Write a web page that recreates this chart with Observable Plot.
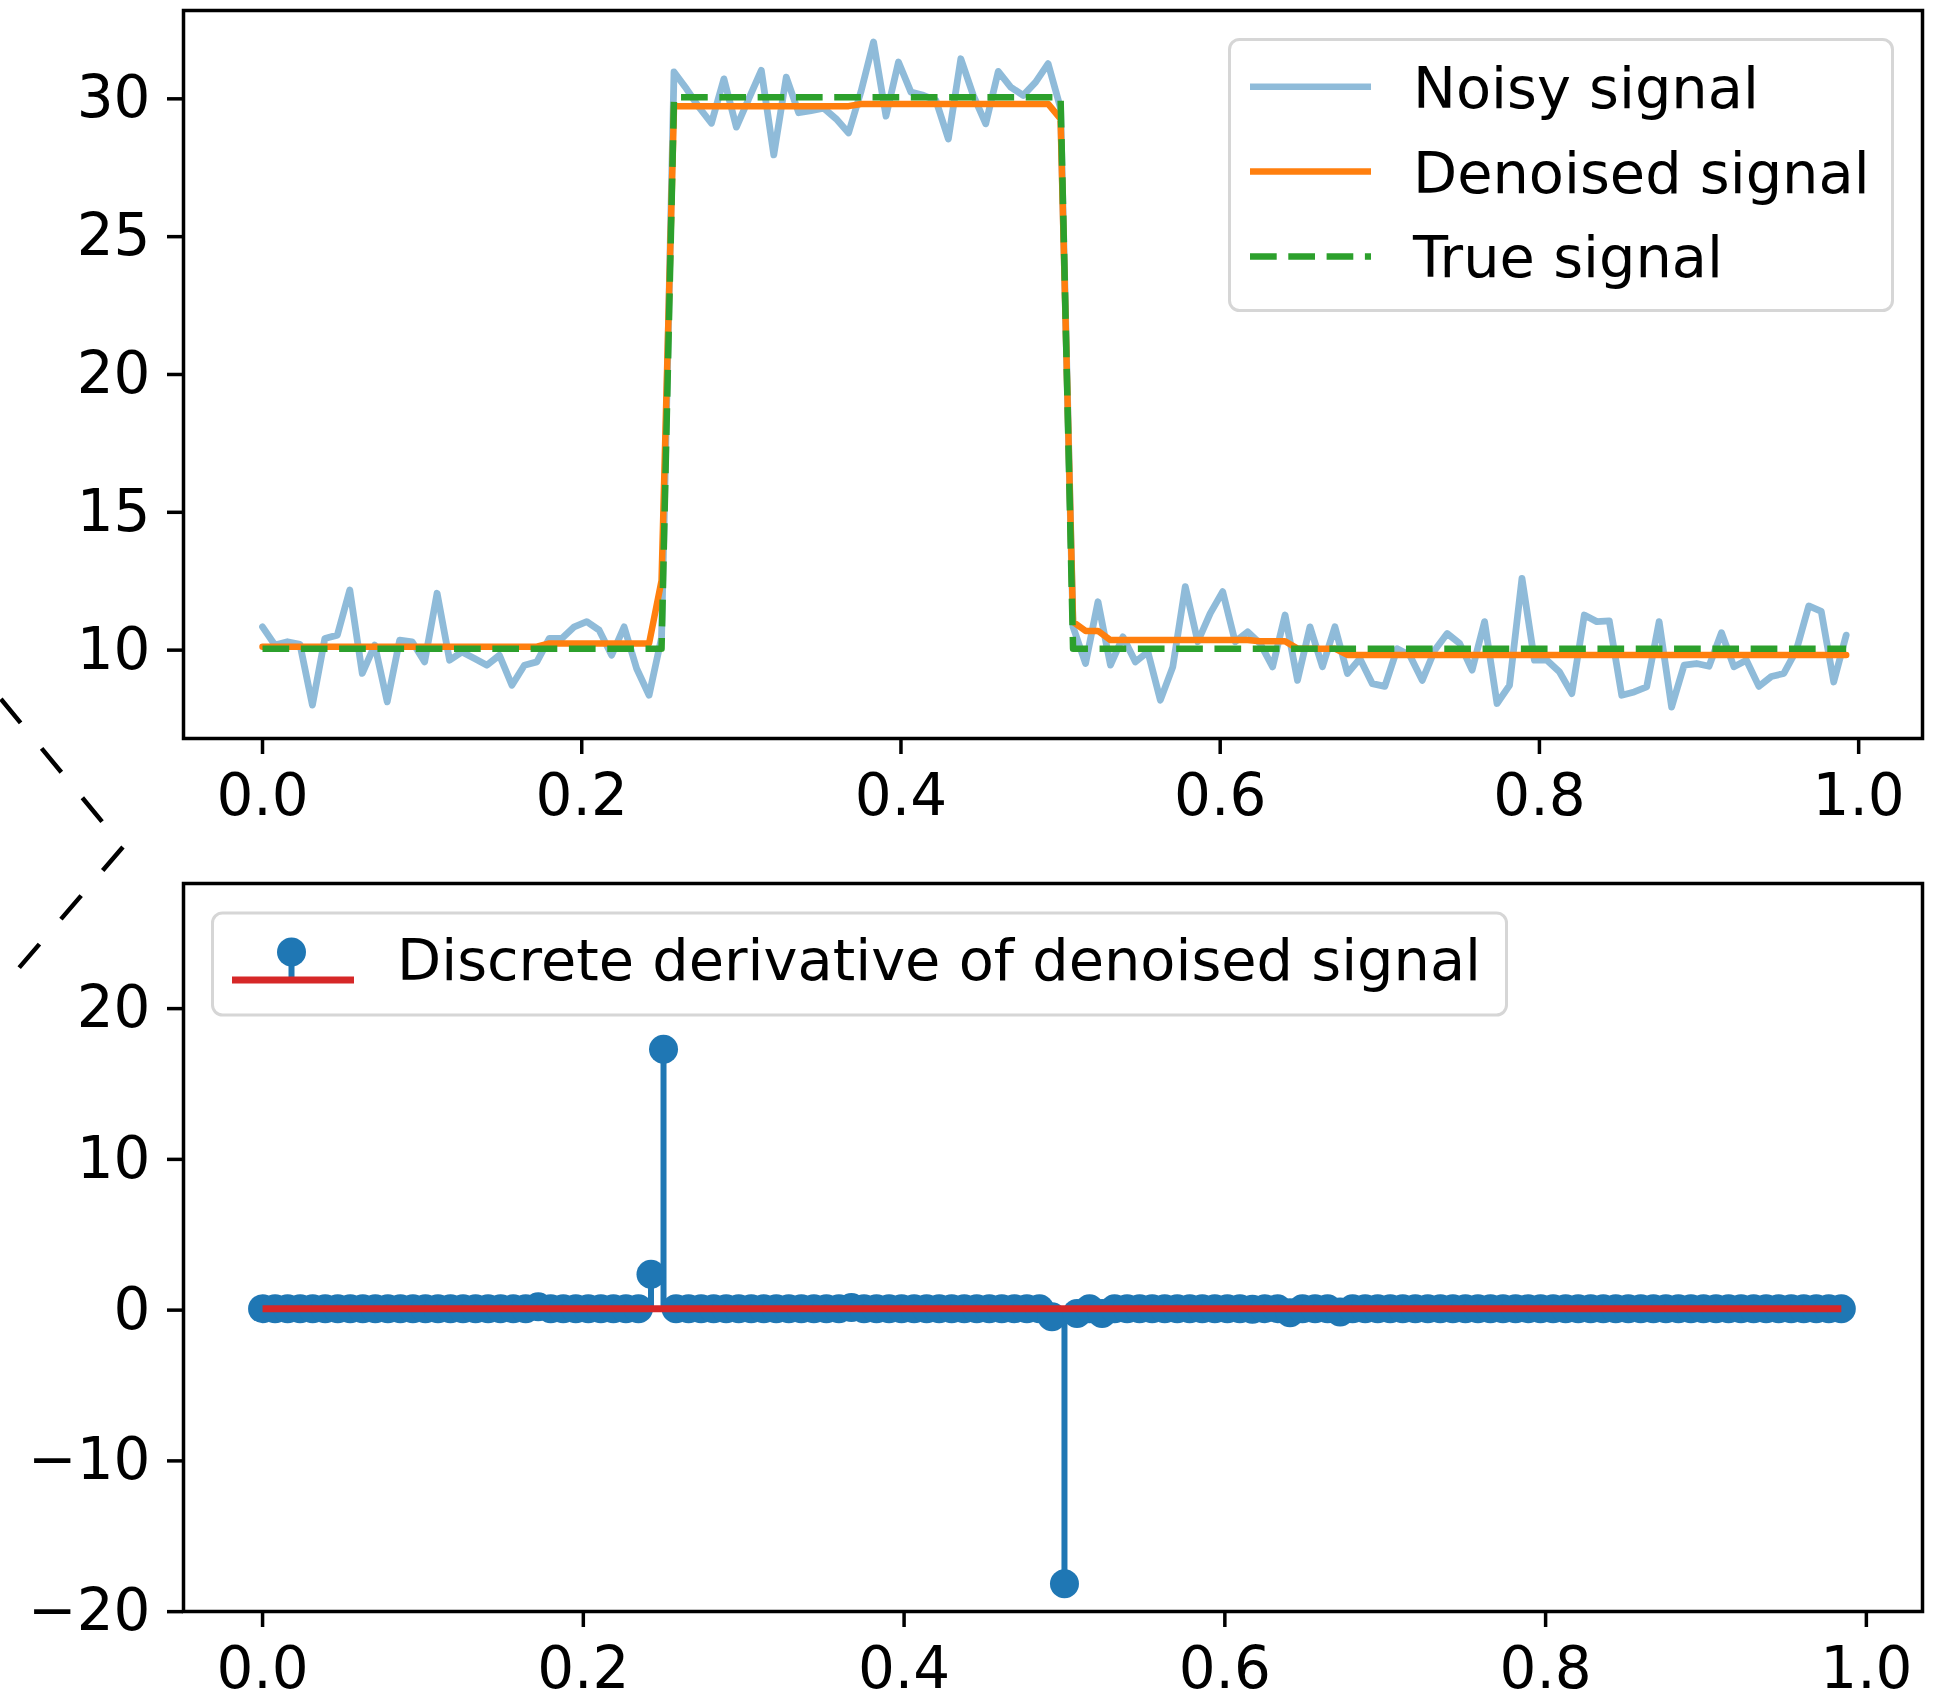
<!DOCTYPE html>
<html>
<head>
<meta charset="utf-8">
<script src="https://cdn.jsdelivr.net/npm/d3@7"></script>
<script src="https://cdn.jsdelivr.net/npm/@observablehq/plot@0.6"></script>
<style>
  html, body { margin: 0; padding: 0; background: #ffffff; overflow: hidden; }
  #wrap { position: relative; width: 1937px; height: 1699px; background: #ffffff; font-family: "DejaVu Sans", sans-serif; }
  #topPanel, #bottomPanel, #overlay { position: absolute; left: 0; }
  #topPanel { top: 0; }
  #bottomPanel { top: 820px; }
  #overlay { top: 0; pointer-events: none; }
</style>
</head>
<body>
<div id="wrap">
  <div id="topPanel"></div>
  <div id="bottomPanel"></div>
  <div id="overlay"></div>
</div>
<script>
// ---------------- data ----------------
const N = 128;
const xSamples = d3.range(N).map(i => i / N);   // sampling grid x = k/128

const noisySignal = [
  10.79,10.13,10.25,10.16,7.95,10.37,10.49,12.13,9.10,10.13,
  8.07,10.31,10.25,9.52,12.01,9.58,9.88,9.64,9.40,9.76,
  8.67,9.40,9.52,10.37,10.37,10.79,10.98,10.67,9.76,10.79,
  9.28,8.31,10.40,30.92,30.31,29.64,29.06,30.67,28.92,29.95,
  30.98,27.91,30.73,29.44,29.52,29.61,29.22,28.71,30.22,32.01,
  29.32,31.28,30.19,30.07,29.89,28.49,31.40,30.07,29.04,30.94,
  30.37,30.07,30.55,31.22,29.60,10.79,9.46,11.70,9.40,10.43,
  9.52,9.88,8.13,9.34,12.25,10.25,11.28,12.07,10.25,10.61,
  10.19,9.34,11.22,8.85,10.79,9.34,10.79,9.10,9.64,8.73,
  8.63,10.00,9.76,8.85,9.94,10.55,10.19,9.22,10.98,8.01,
  8.67,12.55,9.58,9.58,9.16,8.37,11.22,10.98,11.01,8.31,
  8.43,8.61,10.98,7.88,9.40,9.46,9.36,10.58,9.34,9.58,
  8.63,8.99,9.10,9.94,11.55,11.35,8.79,10.49
];

const denoisedSignal = [
  10.07,10.07,10.07,10.07,10.07,10.07,10.07,10.07,10.07,10.07,
  10.07,10.07,10.07,10.07,10.07,10.07,10.07,10.07,10.07,10.07,
  10.07,10.07,10.07,10.19,10.19,10.19,10.19,10.19,10.19,10.19,
  10.19,10.19,12.47,29.68,29.68,29.68,29.68,29.68,29.68,29.68,
  29.68,29.68,29.68,29.68,29.68,29.68,29.68,29.68,29.76,29.76,
  29.76,29.76,29.76,29.76,29.76,29.76,29.76,29.76,29.76,29.76,
  29.76,29.76,29.76,29.76,29.22,10.97,10.64,10.64,10.31,10.31,
  10.31,10.31,10.31,10.31,10.31,10.31,10.31,10.31,10.31,10.31,
  10.27,10.27,10.27,10.00,10.00,10.00,10.00,9.77,9.77,9.77,
  9.77,9.77,9.77,9.77,9.77,9.77,9.77,9.77,9.77,9.77,
  9.77,9.77,9.77,9.77,9.77,9.77,9.77,9.77,9.77,9.77,
  9.77,9.77,9.77,9.77,9.77,9.77,9.77,9.77,9.77,9.77,
  9.77,9.77,9.77,9.77,9.77,9.77,9.77,9.77
];

const trueSignal = [
  10,10,10,10,10,10,10,10,10,10,
  10,10,10,10,10,10,10,10,10,10,
  10,10,10,10,10,10,10,10,10,10,
  10,10,10,30,30,30,30,30,30,30,
  30,30,30,30,30,30,30,30,30,30,
  30,30,30,30,30,30,30,30,30,30,
  30,30,30,30,30,10,10,10,10,10,
  10,10,10,10,10,10,10,10,10,10,
  10,10,10,10,10,10,10,10,10,10,
  10,10,10,10,10,10,10,10,10,10,
  10,10,10,10,10,10,10,10,10,10,
  10,10,10,10,10,10,10,10,10,10,
  10,10,10,10,10,10,10,10
];

// discrete derivative of the denoised signal (127 values, drawn at x[0..126])
const derivative = [
  0,0,0,0,0,0,0,0,0,0,
  0,0,0,0,0,0,0,0,0,0,
  0,0,0.12,0,0,0,0,0,0,0,
  0,2.28,17.21,0,0,0,0,0,0,0,
  0,0,0,0,0,0,0,0.08,0,0,
  0,0,0,0,0,0,0,0,0,0,
  0,0,0,-0.54,-18.25,-0.33,0,-0.33,0,0,
  0,0,0,0,0,0,0,0,0,-0.04,
  0,0,-0.27,0,0,0,-0.23,0,0,0,
  0,0,0,0,0,0,0,0,0,0,
  0,0,0,0,0,0,0,0,0,0,
  0,0,0,0,0,0,0,0,0,0,
  0,0,0,0,0,0,0
];

const xTicks = [0, 0.2, 0.4, 0.6, 0.8, 1.0];
const yTicksTop = [10, 15, 20, 25, 30];
const yTicksBottom = [-20, -10, 0, 10, 20];
const legendTopLabels = ["Noisy signal", "Denoised signal", "True signal"];
const legendBottomLabel = "Discrete derivative of denoised signal";

// ---------------- styles ----------------
const C0 = "#1f77b4", C1 = "#ff7f0e", C2 = "#2ca02c", C3 = "#d62728";
const FONT = '"DejaVu Sans", sans-serif';
const idx = d3.range(noisySignal.length);
const idxD = d3.range(derivative.length);

const common = {
  width: 1937,
  marginLeft: 183,
  marginRight: 15,
  style: { fontFamily: FONT, fontSize: "58px", color: "black", background: "transparent", overflow: "visible" }
};
const axisStyle = { tickSize: 16, strokeWidth: 3.5, fontSize: 58, label: null, fontFamily: FONT };

const topPlot = Plot.plot({
  ...common,
  height: 820,
  marginTop: 10,
  marginBottom: 82,
  x: { domain: [-0.0495, 1.040], axis: null },
  y: { domain: [6.74, 33.15], axis: null },
  marks: [
    Plot.line(idx, { x: i => xSamples[i], y: i => noisySignal[i], stroke: C0, strokeOpacity: 0.5, strokeWidth: 6.8 }),
    Plot.line(idx, { x: i => xSamples[i], y: i => denoisedSignal[i], stroke: C1, strokeWidth: 6.5 }),
    Plot.line(idx, { x: i => xSamples[i], y: i => trueSignal[i], stroke: C2, strokeWidth: 6.5,
                     strokeDasharray: "26.7,11.6", strokeLinecap: "butt" }),
    Plot.frame({ stroke: "black", strokeWidth: 3.5 }),
    Plot.axisX({ ...axisStyle, ticks: xTicks, tickFormat: d3.format(".1f"), tickPadding: 19 }),
    Plot.axisY({ ...axisStyle, ticks: yTicksTop, tickFormat: d3.format("d"), tickPadding: 17, dy: 1.5 })
  ]
});
document.getElementById("topPanel").appendChild(topPlot);

const bottomPlot = Plot.plot({
  ...common,
  height: 879,
  marginTop: 63,
  marginBottom: 88,
  x: { domain: [-0.0493, 1.035], axis: null },
  y: { domain: [-20.09, 28.2], axis: null },
  marks: [
    Plot.ruleX(idxD, { x: i => xSamples[i], y1: () => 0, y2: i => derivative[i], stroke: C0, strokeWidth: 6 }),
    Plot.dot(idxD, { x: i => xSamples[i], y: i => derivative[i], r: 14.5, fill: C0, stroke: "none" }),
    Plot.line([idxD[0], idxD[idxD.length - 1]], { x: i => xSamples[i], y: () => 0, stroke: C3, strokeWidth: 7, strokeLinecap: "butt" }),
    Plot.frame({ stroke: "black", strokeWidth: 3.5 }),
    Plot.axisX({ ...axisStyle, ticks: xTicks, tickFormat: d3.format(".1f"), tickPadding: 19 }),
    Plot.axisY({ ...axisStyle, ticks: yTicksBottom, tickFormat: d3.format("d"), tickPadding: 17, dy: 1.5 })
  ]
});
document.getElementById("bottomPanel").appendChild(bottomPlot);

// ---------------- legends and connector decoration (layout) ----------------
const svg = d3.create("svg")
  .attr("width", 1937).attr("height", 1699)
  .attr("font-family", FONT).attr("font-size", 57.4);

// dashed connector at far left
svg.append("polyline")
  .attr("points", "-20,673.7 123,847 18,969")
  .attr("fill", "none").attr("stroke", "black").attr("stroke-width", 4.5)
  .attr("stroke-dasharray", "31,33").attr("stroke-dashoffset", 31.2);

// top legend
const lt = svg.append("g");
lt.append("rect").attr("x", 1229.5).attr("y", 39.5).attr("width", 663).attr("height", 271)
  .attr("rx", 10).attr("fill", "white").attr("fill-opacity", 0.8)
  .attr("stroke", "#d6d6d6").attr("stroke-width", 3);
const swatchStyles = [
  { stroke: C0, opacity: 0.5, dash: null },
  { stroke: C1, opacity: 1, dash: null },
  { stroke: C2, opacity: 1, dash: "26.7,11.6" }
];
const rowBase = [107.7, 192.6, 277.4];
legendTopLabels.forEach((lab, k) => {
  const s = swatchStyles[k];
  const ln = lt.append("line").attr("x1", 1250).attr("x2", 1371)
    .attr("y1", rowBase[k] - 21).attr("y2", rowBase[k] - 21)
    .attr("stroke", s.stroke).attr("stroke-opacity", s.opacity).attr("stroke-width", 6.5);
  if (s.dash) ln.attr("stroke-dasharray", s.dash);
  lt.append("text").attr("x", 1413).attr("y", rowBase[k]).attr("fill", "black").text(lab);
});

// bottom legend
const lb = svg.append("g");
lb.append("rect").attr("x", 212.5).attr("y", 913).attr("width", 1294).attr("height", 102)
  .attr("rx", 10).attr("fill", "white").attr("fill-opacity", 0.8)
  .attr("stroke", "#d6d6d6").attr("stroke-width", 3);
lb.append("line").attr("x1", 291.5).attr("x2", 291.5).attr("y1", 952).attr("y2", 980)
  .attr("stroke", C0).attr("stroke-width", 6);
lb.append("circle").attr("cx", 291.5).attr("cy", 952).attr("r", 14.5).attr("fill", C0);
lb.append("line").attr("x1", 232).attr("x2", 354).attr("y1", 980).attr("y2", 980)
  .attr("stroke", C3).attr("stroke-width", 7);
lb.append("text").attr("x", 397).attr("y", 980).attr("fill", "black").text(legendBottomLabel);

document.getElementById("overlay").appendChild(svg.node());
</script>
</body>
</html>
